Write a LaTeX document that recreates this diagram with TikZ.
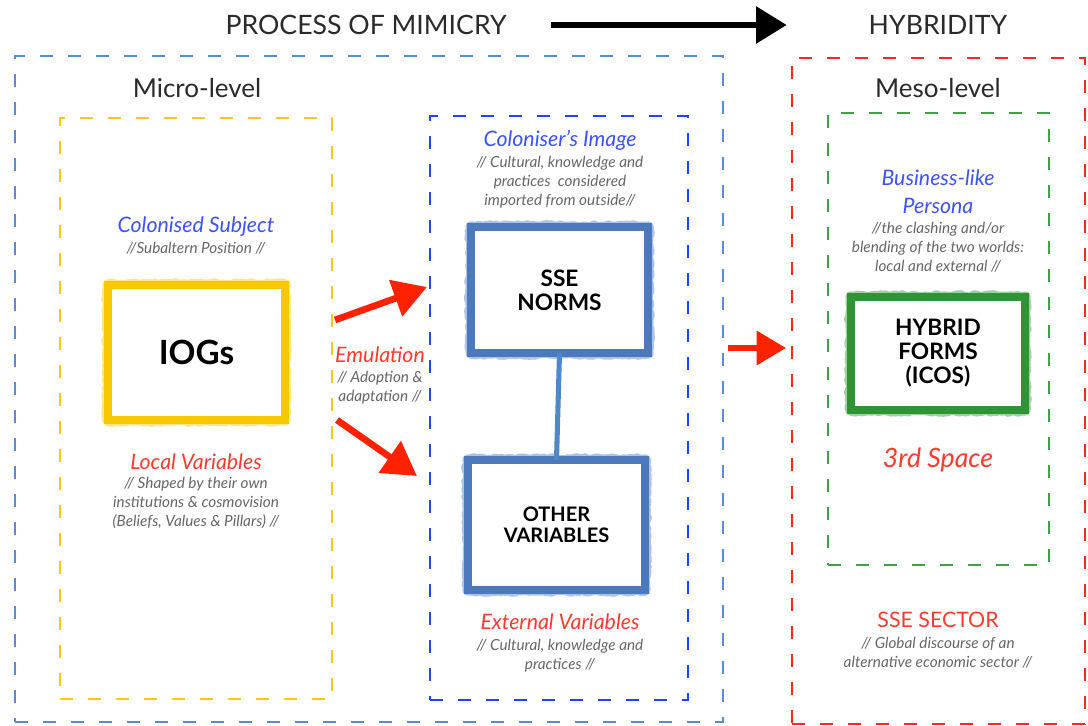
\documentclass[tikz,border=0pt]{standalone}
\usepackage{fontspec}
\setmainfont{Lato}
\usetikzlibrary{arrows.meta,decorations.pathmorphing}
\definecolor{outerblue}{HTML}{5A8AD2}
\definecolor{innerblue}{HTML}{1F45FF}
\definecolor{dyellow}{HTML}{FFC61A}
\definecolor{dred}{HTML}{FF2A1A}
\definecolor{dgreen}{HTML}{3DA34A}
\definecolor{byellow}{HTML}{F7C800}
\definecolor{bblue}{HTML}{4C79BC}
\definecolor{cblue}{HTML}{4F88C8}
\definecolor{bgreen}{HTML}{2E9436}
\definecolor{tblue}{HTML}{3D52FF}
\definecolor{tred}{HTML}{FF3B2F}
\definecolor{tgray}{HTML}{666666}
\definecolor{arrred}{HTML}{FF2200}
\definecolor{hdrgray}{HTML}{2A2A2A}
\tikzset{
  dashbox/.style={draw=#1, line width=2.2pt, dash pattern=on 10pt off 11pt, inner sep=0pt, outer sep=0pt},
  brushbox/.style={draw=#1, line width=6.5pt, fill=white, inner sep=0pt, outer sep=0pt, align=center,
    font=\bfseries, text=black,
    preaction={draw=#1, line width=8.5pt, opacity=.45, line join=round, decorate,
      decoration={random steps, segment length=2pt, amplitude=0.9pt}}},
  hdr/.style={font=\fontsize{20}{24}\selectfont, text=hdrgray},
  lvl/.style={font=\fontsize{19.5}{22}\selectfont, text=hdrgray},
  head/.style={font=\fontsize{16}{21}\selectfont\itshape, text=#1, align=center},
  note/.style={font=\fontsize{11.5}{14.25}\selectfont\itshape, text=tgray, align=center},
  redarrow/.style={draw=arrred, line width=5pt, -{Triangle[length=25pt,width=28pt]}},
}
\begin{document}
\begin{tikzpicture}[x=0.75pt,y=-0.75pt]
\useasboundingbox (0,0) rectangle (1088,725);

% header
\node[hdr] (pm) at (366,25) {PROCESS OF MIMICRY};
\node[hdr] (hy) at (938,25) {HYBRIDITY};
\draw[line width=4.5pt, -{Triangle[length=23pt,width=27pt]}, shorten <=30pt, shorten >=58pt] (pm.east) -- (hy.west);

% containers
\node[dashbox=outerblue, minimum width=531pt, minimum height=499.5pt] (micro) at (369,389) {};
\node[dashbox=dred, minimum width=219.75pt, minimum height=499.5pt] (meso) at (938.5,391) {};
\node[dashbox=dyellow, minimum width=204pt, minimum height=435.75pt] (local) at (196,408.5) {};
\node[dashbox=innerblue, minimum width=193.5pt, minimum height=438pt] (ext) at (559,408) {};
\node[dashbox=dgreen, minimum width=165.75pt, minimum height=339pt] (third) at (938.5,339) {};

\node[lvl] (microlbl) at (197,88) {Micro-level};
\node[lvl] (mesolbl) at (938,88) {Meso-level};

% brush boxes
\node[brushbox=byellow, minimum width=132.75pt, minimum height=101.25pt, font=\fontsize{25}{30}\selectfont\bfseries] (iogs) at (196.5,352.5) {IOGs};
\node[brushbox=bblue, minimum width=132.75pt, minimum height=94.5pt, font=\fontsize{17}{18}\selectfont\bfseries] (sse) at (559.5,290) {SSE\\NORMS};
\node[brushbox=bblue, minimum width=132.75pt, minimum height=97.5pt, font=\fontsize{15}{16}\selectfont\bfseries] (other) at (556.5,525) {OTHER\\VARIABLES};
\node[brushbox=bgreen, minimum width=130.5pt, minimum height=84.75pt, font=\fontsize{17}{18}\selectfont\bfseries] (hyb) at (938,353.5) {HYBRID\\FORMS\\(ICOS)};

\draw[draw=cblue, line width=3.8pt] (sse.south) -- (other.north);

% left texts
\node[head=tblue] (colsub) at (196,227) {Colonised Subject};
\node[note] (subal) at (196,248) {//Subaltern Position //};
\node[head=tred] (locvar) at (196,462) {Local Variables};
\node[note] (locnote) at (196,503) {// Shaped by their own\\institutions \& cosmovision\\(Beliefs, Values \& Pillars) //};

% emulation
\node[head=tred] (emu) at (380,355) {Emulation};
\node[note] (emunote) at (380,388) {// Adoption \&\\adaptation //};
\coordinate (a1s) at (335,320);
\coordinate (a1t) at (427,287);
\coordinate (a2s) at (337,420);
\coordinate (a2t) at (417,476);
\draw[redarrow] (a1s) -- (a1t);
\draw[redarrow] (a2s) -- (a2t);

% center texts
\node[head=tblue] (colimg) at (560,140) {Coloniser’s Image};
\node[note] (colnote) at (560,182) {// Cultural, knowledge and\\practices\ \ considered\\imported from outside//};
\node[head=tred] (extvar) at (560,622) {External Variables};
\node[note] (extnote) at (560,656) {// Cultural, knowledge and\\practices //};

% arrow to meso
\coordinate (a3s) at (728,348);
\coordinate (a3t) at (786,348);
\draw[draw=arrred, line width=4pt, -{Triangle[length=22pt,width=25pt]}] (a3s) -- (a3t);

% right texts
\node[head=tblue] (bus) at (938,192) {Business-like\\Persona};
\node[note] (busnote) at (938,247) {//the clashing and/or\\blending of the two worlds:\\local and external //};
\node[head=tred, font=\fontsize{20}{24}\selectfont\itshape] (space) at (938,460) {3rd Space};
\node[head=tred, font=\fontsize{16}{21}\selectfont] (sector) at (938,620) {SSE SECTOR};
\node[note] (secnote) at (938,653) {// Global discourse of an\\alternative economic sector //};
\end{tikzpicture}
\end{document}
